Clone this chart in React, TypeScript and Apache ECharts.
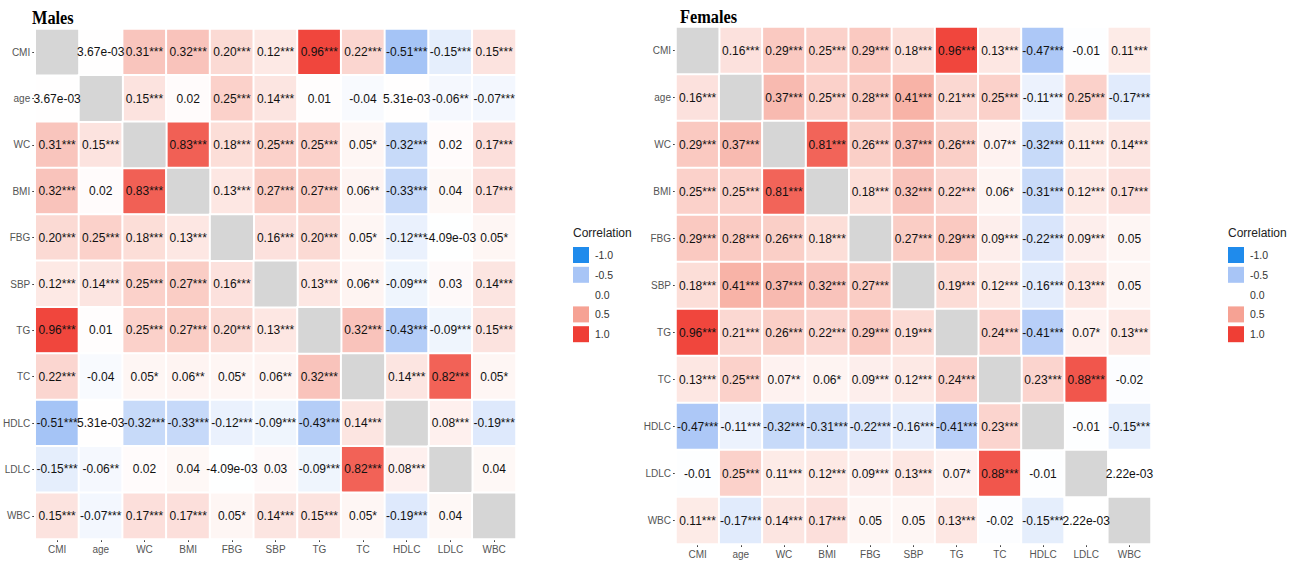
import React, { useEffect, useRef } from "react";
import * as echarts from "echarts";

// Variables shown on both axes (top-to-bottom / left-to-right)
const VARS = ["CMI", "age", "WC", "BMI", "FBG", "SBP", "TG", "TC", "HDLC", "LDLC", "WBC"];

// Correlation labels for males; null marks the diagonal
const MALES: (string | null)[][] = [
  [null, "3.67e-03", "0.31***", "0.32***", "0.20***", "0.12***", "0.96***", "0.22***", "-0.51***", "-0.15***", "0.15***"],
  ["3.67e-03", null, "0.15***", "0.02", "0.25***", "0.14***", "0.01", "-0.04", "5.31e-03", "-0.06**", "-0.07***"],
  ["0.31***", "0.15***", null, "0.83***", "0.18***", "0.25***", "0.25***", "0.05*", "-0.32***", "0.02", "0.17***"],
  ["0.32***", "0.02", "0.83***", null, "0.13***", "0.27***", "0.27***", "0.06**", "-0.33***", "0.04", "0.17***"],
  ["0.20***", "0.25***", "0.18***", "0.13***", null, "0.16***", "0.20***", "0.05*", "-0.12***", "-4.09e-03", "0.05*"],
  ["0.12***", "0.14***", "0.25***", "0.27***", "0.16***", null, "0.13***", "0.06**", "-0.09***", "0.03", "0.14***"],
  ["0.96***", "0.01", "0.25***", "0.27***", "0.20***", "0.13***", null, "0.32***", "-0.43***", "-0.09***", "0.15***"],
  ["0.22***", "-0.04", "0.05*", "0.06**", "0.05*", "0.06**", "0.32***", null, "0.14***", "0.82***", "0.05*"],
  ["-0.51***", "5.31e-03", "-0.32***", "-0.33***", "-0.12***", "-0.09***", "-0.43***", "0.14***", null, "0.08***", "-0.19***"],
  ["-0.15***", "-0.06**", "0.02", "0.04", "-4.09e-03", "0.03", "-0.09***", "0.82***", "0.08***", null, "0.04"],
  ["0.15***", "-0.07***", "0.17***", "0.17***", "0.05*", "0.14***", "0.15***", "0.05*", "-0.19***", "0.04", null],
];

// Correlation labels for females; null marks the diagonal
const FEMALES: (string | null)[][] = [
  [null, "0.16***", "0.29***", "0.25***", "0.29***", "0.18***", "0.96***", "0.13***", "-0.47***", "-0.01", "0.11***"],
  ["0.16***", null, "0.37***", "0.25***", "0.28***", "0.41***", "0.21***", "0.25***", "-0.11***", "0.25***", "-0.17***"],
  ["0.29***", "0.37***", null, "0.81***", "0.26***", "0.37***", "0.26***", "0.07**", "-0.32***", "0.11***", "0.14***"],
  ["0.25***", "0.25***", "0.81***", null, "0.18***", "0.32***", "0.22***", "0.06*", "-0.31***", "0.12***", "0.17***"],
  ["0.29***", "0.28***", "0.26***", "0.18***", null, "0.27***", "0.29***", "0.09***", "-0.22***", "0.09***", "0.05"],
  ["0.18***", "0.41***", "0.37***", "0.32***", "0.27***", null, "0.19***", "0.12***", "-0.16***", "0.13***", "0.05"],
  ["0.96***", "0.21***", "0.26***", "0.22***", "0.29***", "0.19***", null, "0.24***", "-0.41***", "0.07*", "0.13***"],
  ["0.13***", "0.25***", "0.07**", "0.06*", "0.09***", "0.12***", "0.24***", null, "0.23***", "0.88***", "-0.02"],
  ["-0.47***", "-0.11***", "-0.32***", "-0.31***", "-0.22***", "-0.16***", "-0.41***", "0.23***", null, "-0.01", "-0.15***"],
  ["-0.01", "0.25***", "0.11***", "0.12***", "0.09***", "0.13***", "0.07*", "0.88***", "-0.01", null, "2.22e-03"],
  ["0.11***", "-0.17***", "0.14***", "0.17***", "0.05", "0.05", "0.13***", "-0.02", "-0.15***", "2.22e-03", null],
];

// Colour scale stops and their legend labels
const LEGEND_TICKS = [-1, -0.5, 0, 0.5, 1];
const LEGEND_COLORS = ["#1f8bec", "#a8c5f6", "#ffffff", "#f6a294", "#ef3e35"];

const SANS = "Liberation Sans, Arial, Helvetica, sans-serif";
const SERIF = "Liberation Serif, Times New Roman, serif";
const DIAG_COLOR = "#d6d6d6";

function buildCells(matrix: (string | null)[][]) {
  const cells: number[][] = [];
  const labels: string[] = [];
  const diag: number[][] = [];
  matrix.forEach((row, r) =>
    row.forEach((txt, c) => {
      if (txt === null) {
        diag.push([c, r, 0]);
      } else {
        cells.push([c, r, parseFloat(txt)]);
        labels.push(txt);
      }
    })
  );
  return { cells, labels, diag };
}

function axisPair(gridIndex: number) {
  const common = {
    type: "category" as const,
    data: VARS,
    gridIndex,
    axisLine: { show: false },
    axisTick: { show: true, alignWithLabel: true, length: 3, lineStyle: { color: "#444", width: 1 } },
    splitLine: { show: false },
    splitArea: { show: false },
  };
  return {
    x: { ...common, axisLabel: { color: "#555", fontSize: 10, fontFamily: SANS, margin: 5 } },
    y: { ...common, inverse: true, axisLabel: { color: "#555", fontSize: 10, fontFamily: SANS, margin: 5 } },
  };
}

function legendGraphics(left: number) {
  const items: any[] = [
    {
      type: "text",
      x: left,
      y: 233,
      style: { text: "Correlation", fontSize: 12, fontFamily: SANS, fill: "#222", verticalAlign: "middle" },
    },
  ];
  LEGEND_TICKS.forEach((t, i) => {
    const cy = 255 + i * 19.8;
    items.push({
      type: "rect",
      shape: { x: left, y: cy - 8, width: 16, height: 16 },
      style: { fill: LEGEND_COLORS[i] },
    });
    items.push({
      type: "text",
      x: left + 22,
      y: cy,
      style: { text: t.toFixed(1), fontSize: 10.5, fontFamily: SANS, fill: "#333", verticalAlign: "middle" },
    });
  });
  return items;
}

function titleGraphic(text: string, x: number, y: number) {
  return {
    type: "text",
    x,
    y,
    scaleX: 0.86,
    style: { text, fontSize: 19, fontWeight: "bold", fontFamily: SERIF, fill: "#000", verticalAlign: "middle" },
  };
}

export default function App() {
  const ref = useRef<HTMLDivElement>(null);

  useEffect(() => {
    if (!ref.current) return;
    const chart = echarts.init(ref.current, undefined, { renderer: "svg" });

    const m = buildCells(MALES);
    const f = buildCells(FEMALES);
    const a0 = axisPair(0);
    const a1 = axisPair(1);

    const cellSeries = (idx: number, d: ReturnType<typeof buildCells>) => ({
      type: "heatmap",
      xAxisIndex: idx,
      yAxisIndex: idx,
      data: d.cells,
      itemStyle: { borderColor: "#ffffff", borderWidth: 2 },
      label: {
        show: true,
        color: "#111",
        fontSize: 12,
        fontFamily: SANS,
        formatter: (p: any) => d.labels[p.dataIndex],
      },
      emphasis: { disabled: true },
    });

    const diagSeries = (idx: number, d: ReturnType<typeof buildCells>) => ({
      type: "heatmap",
      xAxisIndex: idx,
      yAxisIndex: idx,
      data: d.diag,
      itemStyle: { borderColor: "#ffffff", borderWidth: 2 },
      label: { show: false },
      emphasis: { disabled: true },
    });

    chart.setOption({
      animation: false,
      backgroundColor: "#ffffff",
      grid: [
        { left: 31, top: 29, width: 485, height: 510 },
        { left: 676, top: 27, width: 475, height: 517 },
      ],
      xAxis: [a0.x, a1.x],
      yAxis: [a0.y, a1.y],
      visualMap: [
        {
          type: "continuous",
          show: false,
          min: -1,
          max: 1,
          dimension: 2,
          seriesIndex: [0, 1],
          inRange: { color: LEGEND_COLORS },
        },
        {
          // diagonal cells are drawn in a flat grey
          type: "continuous",
          show: false,
          min: -1,
          max: 1,
          dimension: 2,
          seriesIndex: [2, 3],
          inRange: { color: [DIAG_COLOR, DIAG_COLOR] },
        },
      ],
      series: [cellSeries(0, m), cellSeries(1, f), diagSeries(0, m), diagSeries(1, f)],
      graphic: [
        titleGraphic("Males", 32, 18),
        titleGraphic("Females", 680, 17),
        ...legendGraphics(573),
        ...legendGraphics(1228),
      ],
    });

    return () => chart.dispose();
  }, []);

  return (
    <div
      ref={ref}
      style={{ position: "fixed", left: 0, top: 0, width: 1292, height: 561, background: "#fff" }}
    />
  );
}
